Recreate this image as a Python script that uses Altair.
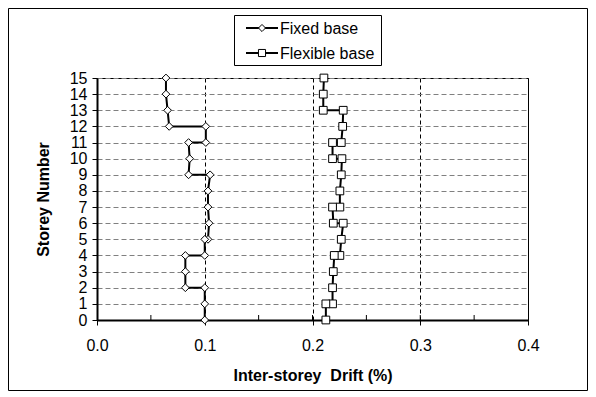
import altair as alt
import pandas as pd

# ---- data ----
series_names = ["Fixed base", "Flexible base"]
series_shapes = ["diamond", "square"]

fixed_drift = [0.064, 0.064, 0.0655, 0.067, 0.101, 0.101, 0.085, 0.086, 0.085,
               0.105, 0.103, 0.103, 0.104, 0.103, 0.100, 0.100, 0.082, 0.082,
               0.082, 0.100, 0.100, 0.100]
fixed_storey = [15, 14, 13, 12, 12, 11, 11, 10, 9, 9, 8, 7, 6, 5, 5, 4, 4, 3,
                2, 2, 1, 0]

flex_drift = [0.2106, 0.2100, 0.2100, 0.2285, 0.2280, 0.2267, 0.2186, 0.2186,
              0.2273, 0.2267, 0.2254, 0.2254, 0.2186, 0.2193, 0.2285, 0.2267,
              0.2254, 0.2202, 0.2193, 0.2186, 0.2186, 0.2124, 0.2124]
flex_storey = [15, 14, 13, 13, 12, 11, 11, 10, 10, 9, 8, 7, 7, 6, 6, 5, 4, 4,
               3, 2, 1, 1, 0]

x_tick_values = [0.0, 0.1, 0.2, 0.3, 0.4]
x_minor_ticks = [0.05, 0.1, 0.15, 0.2, 0.25, 0.3, 0.35]
storey_ticks = list(range(16))

# ---- tables ----
rows = []
for i, (d, s) in enumerate(zip(fixed_drift, fixed_storey)):
    rows.append({"series": series_names[0], "drift": d, "storey": s, "order": i})
for i, (d, s) in enumerate(zip(flex_drift, flex_storey)):
    rows.append({"series": series_names[1], "drift": d, "storey": s, "order": i})
df = pd.DataFrame(rows)
minor_df = pd.DataFrame({"drift": x_minor_ticks})

W, H = 431, 242
PAD = {"left": 89, "top": 70, "right": 60, "bottom": 71}
FONT = "Liberation Sans"
FS = 16

x_scale = alt.Scale(domain=[0, 0.4], nice=False, zero=False)
y_scale = alt.Scale(domain=[0, 15], nice=False, zero=False)

x_enc = alt.X("drift:Q", scale=x_scale,
              axis=alt.Axis(values=x_tick_values, format=".1f",
                            title="Inter-storey\u00a0 Drift (%)", labelFlush=False,
                            labelOverlap=False,
                            grid=True, gridColor="#000000", gridDash=[4, 3],
                            gridWidth=1, labelPadding=12, titlePadding=14))
y_enc = alt.Y("storey:Q", scale=y_scale,
              axis=alt.Axis(values=storey_ticks, format="d",
                            title="Storey Number", labelOverlap=False,
                            labelFlush=False,
                            grid=True, gridColor="#808080", gridDash=[5, 3],
                            gridWidth=1, labelPadding=5, titlePadding=18))

base = alt.Chart(df)

lines = base.mark_line(color="black", strokeWidth=2, clip=False).encode(
    x=x_enc, y=y_enc, detail="series:N", order="order:Q")

points = base.mark_point(filled=True, fill="white", stroke="black",
                         strokeWidth=1, opacity=1, size=60).encode(
    x=x_enc, y=y_enc,
    shape=alt.Shape("series:N",
                    scale=alt.Scale(domain=series_names, range=series_shapes),
                    legend=None))

minor = alt.Chart(minor_df).mark_rule(color="black", strokeWidth=1).encode(
    x=x_enc, y=alt.value(H), y2=alt.value(H - 5))

frame = alt.Chart(pd.DataFrame({"k": [0]})).mark_rect(
    fill="white", fillOpacity=0, stroke="black", strokeWidth=1).encode(
    x=alt.value(-PAD["left"] + 0.5), x2=alt.value(W + PAD["right"] - 0.5),
    y=alt.value(-PAD["top"] + 0.5), y2=alt.value(H + PAD["bottom"] - 0.5))

# ---- legend (drawn as a boxed key above the plot) ----
LX0, LX1, LY0, LY1 = 137, 284, -63, -13
leg_box = alt.Chart(pd.DataFrame({"k": [0]})).mark_rect(
    fill="white", stroke="black", strokeWidth=1).encode(
    x=alt.value(LX0 + 0.5), x2=alt.value(LX1 + 0.5),
    y=alt.value(LY0 + 0.5), y2=alt.value(LY1 + 0.5))

leg_layers = []
for i, (name, shp) in enumerate(zip(series_names, series_shapes)):
    ly = -50 + 25 * i
    ldf = pd.DataFrame({"series": [name]})
    lc = alt.Chart(ldf)
    leg_layers.append(lc.mark_rule(color="black", strokeWidth=2).encode(
        x=alt.value(149), x2=alt.value(181), y=alt.value(ly)))
    leg_layers.append(lc.mark_point(shape=shp, filled=True, fill="white",
                                    stroke="black", strokeWidth=1, opacity=1,
                                    size=50).encode(
        x=alt.value(165), y=alt.value(ly)))
    leg_layers.append(lc.mark_text(align="left", baseline="middle", font=FONT,
                                   fontSize=FS, color="black").encode(
        x=alt.value(183), y=alt.value(ly + 1), text="series:N"))

chart = alt.layer(frame, minor, lines, points, leg_box, *leg_layers).properties(
    width=W, height=H, autosize=alt.AutoSizeParams(type="none"),
    padding=PAD, background="white"
).configure_view(stroke="black", strokeWidth=1).configure_axis(
    domainColor="black", domainWidth=2, tickColor="black", tickWidth=1,
    tickSize=5, labelFont=FONT, labelFontSize=FS, labelColor="black",
    titleFont=FONT, titleFontSize=FS, titleFontWeight="bold", titleColor="black"
)

chart.save("out.html", embed_options={"renderer": "svg", "actions": False})
